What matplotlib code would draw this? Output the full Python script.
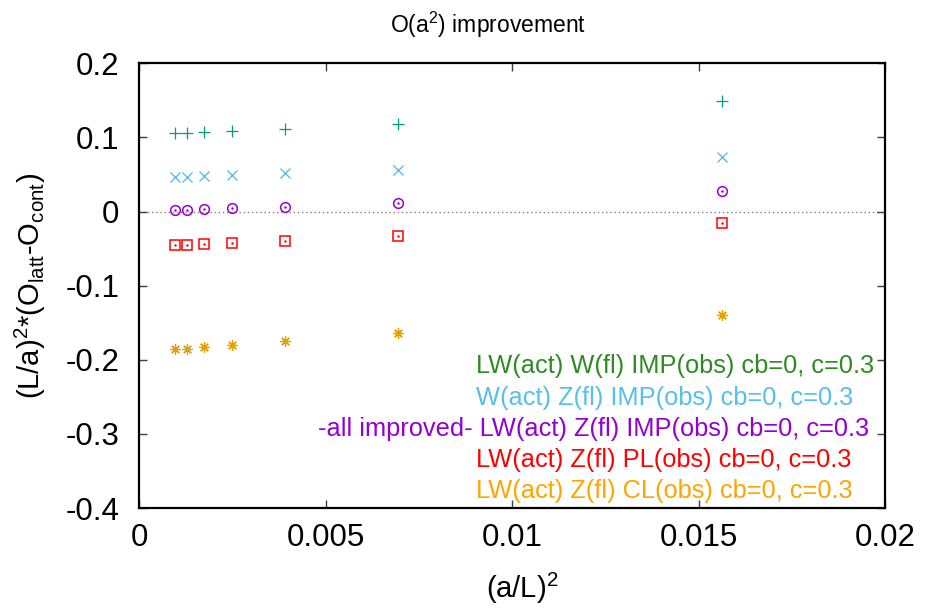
import matplotlib
matplotlib.use("Agg")
import matplotlib.pyplot as plt

plt.rcParams['font.family'] = ['Liberation Sans', 'DejaVu Sans']
plt.rcParams['mathtext.fontset'] = 'custom'
plt.rcParams['mathtext.rm'] = 'Liberation Sans'
plt.rcParams['mathtext.it'] = 'Liberation Sans'
plt.rcParams['mathtext.default'] = 'regular'

# (a/L)^2 for L/a = 32, 28, 24, 20, 16, 12, 8
x_vals = [0.000977, 0.001276, 0.001736, 0.0025, 0.003906, 0.006944, 0.015625]

y_lw_w_imp = [0.1058, 0.1066, 0.1071, 0.1085, 0.1107, 0.1179, 0.1490]
y_w_z_imp = [0.0469, 0.0472, 0.0482, 0.0491, 0.0518, 0.0563, 0.0742]
y_lw_z_imp = [0.0019, 0.0023, 0.0032, 0.0046, 0.0067, 0.0117, 0.0275]
y_lw_z_pl = [-0.0453, -0.0449, -0.0436, -0.0422, -0.0391, -0.0324, -0.0148]
y_lw_z_cl = [-0.1857, -0.1849, -0.1830, -0.1795, -0.1741, -0.1633, -0.1398]

labels = [
    "LW(act) W(fl) IMP(obs) cb=0, c=0.3",
    "W(act) Z(fl) IMP(obs) cb=0, c=0.3",
    "-all improved- LW(act) Z(fl) IMP(obs) cb=0, c=0.3",
    "LW(act) Z(fl) PL(obs) cb=0, c=0.3",
    "LW(act) Z(fl) CL(obs) cb=0, c=0.3",
]
x_ticks = [0, 0.005, 0.01, 0.015, 0.02]
x_ticklabels = ["0", "0.005", "0.01", "0.015", "0.02"]
y_ticks = [-0.4, -0.3, -0.2, -0.1, 0, 0.1, 0.2]
y_ticklabels = ["-0.4", "-0.3", "-0.2", "-0.1", "0", "0.1", "0.2"]

W, H = 925, 613
fig = plt.figure(figsize=(W / 100, H / 100), dpi=100)
ax = fig.add_axes([139 / W, 1 - 508 / H, (885 - 139) / W, (508 - 63.3) / H])

ax.axhline(0, color='#808080', lw=1.0, ls=(0, (1, 2)), zorder=1)

ms = 7
mew = 0.9
ax.plot(x_vals, y_lw_w_imp, ls='none', marker='+', ms=ms + 1, mew=mew, color='#009e73')
ax.plot(x_vals, y_w_z_imp, ls='none', marker='x', ms=ms - 0.5, mew=mew, color='#56b4e9')
ax.plot(x_vals, y_lw_z_imp, ls='none', marker='o', ms=ms, mew=mew + 0.2, mfc='none', color='#9400d3')
ax.plot(x_vals, y_lw_z_imp, ls='none', marker='.', ms=1.5, color='#9400d3')
ax.plot(x_vals, y_lw_z_pl, ls='none', marker='s', ms=ms - 0.5, mew=mew + 0.2, mfc='none', color='#ff0000')
ax.plot(x_vals, y_lw_z_pl, ls='none', marker='.', ms=1.5, color='#ff0000')
ax.plot(x_vals, y_lw_z_cl, ls='none', marker=(8, 2, 0), ms=ms + 0.5, mew=mew, color='#e69f00')

ax.set_xlim(0, 0.02)
ax.set_ylim(-0.4, 0.2)
ax.set_xticks(x_ticks)
ax.set_xticklabels(x_ticklabels)
ax.set_yticks(y_ticks)
ax.set_yticklabels(y_ticklabels)
ax.tick_params(direction='in', length=6, width=1.0, color='#404040', labelsize=22.5,
               top=True, right=True, pad=11)
ax.tick_params(axis='y', pad=14)
for sp in ax.spines.values():
    sp.set_linewidth(1.6)

fig.text(522 / W, 1 - 588 / H, "(a/L)$^2$", ha='center', va='center', fontsize=21)
fig.text(30 / W, 1 - 286 / H, "(L/a)$^2$*(O$_{latt}$-O$_{cont}$)", ha='center', va='center',
         rotation=90, fontsize=21)
fig.text(488 / W, 1 - 25 / H, "O(a$^2$) improvement", ha='center', va='center', fontsize=16.5)

leg_colors = ['#2e8b22', '#56c0ea', '#9400d3', '#ff0000', '#ffa500']
leg_y = [366, 397.5, 429, 460, 491]
for lab, c, yy in zip(labels, leg_colors, leg_y):
    if lab.startswith("-all"):
        fig.text(869 / W, 1 - yy / H, lab, ha='right', va='center', fontsize=18.3, color=c)
    else:
        fig.text(476 / W, 1 - yy / H, lab, ha='left', va='center', fontsize=18.3, color=c)

fig.savefig("out.png", dpi=100)
